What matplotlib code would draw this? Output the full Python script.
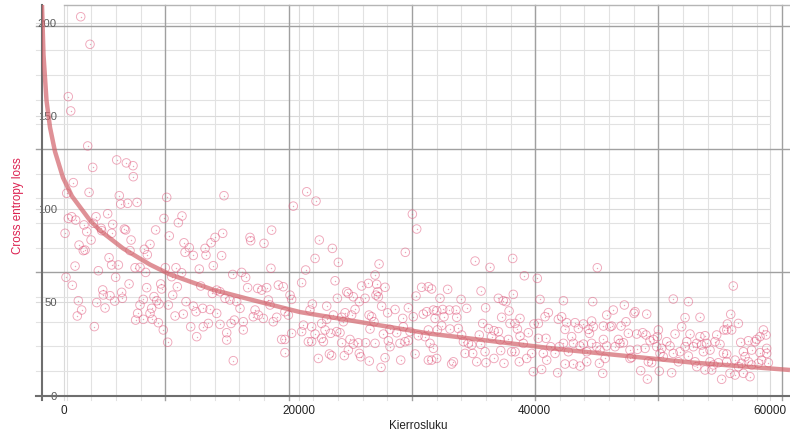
import matplotlib
matplotlib.use("Agg")
import matplotlib.pyplot as plt
import matplotlib.transforms as mtransforms

# ---------------- data (iteration, loss) ----------------
band_0_9k = [
    (1420, 203.4), (2210, 188.6), (365, 160.5), (570, 152.8), (2015, 134.0), (4480, 126.5),
    (2440, 122.5), (5300, 124.9), (5865, 123.4), (5890, 117.5),
    (790, 114.3), (230, 108.6), (2130, 109.1), (4700, 107.3), (4820, 102.8), (5410, 103.2),
    (6210, 103.7), (8730, 106.4), (370, 95.1), (650, 96.0), (990, 94.2), (2720, 96.0),
    (3710, 97.6), (90, 87.1), (1700, 91.6), (2490, 92.5), (1930, 88.0), (3150, 89.8),
    (3200, 88.5), (4140, 91.9), (4050, 87.1), (5130, 89.4), (5240, 88.9), (7790, 88.9),
    (8500, 95.1), (8950, 85.7), (2300, 83.5), (1280, 80.8), (1640, 77.8), (1790, 78.1),
    (5700, 83.5), (5610, 77.8), (6830, 78.5), (7080, 75.6), (7310, 81.2), (3830, 74.0),
    (4050, 70.1), (4620, 70.1), (940, 69.5), (2920, 67.0), (6040, 68.6), (6460, 68.8),
    (6940, 66.1), (8610, 68.6), (170, 63.5), (4390, 63.5), (710, 59.2), (3290, 56.7),
    (3340, 54.0), (3910, 53.6), (4900, 55.4), (5530, 59.9), (7030, 57.9), (8220, 59.9),
    (8300, 57.2), (1220, 50.9), (2780, 49.9), (3490, 47.0), (4310, 50.7), (4960, 52.2),
    (1500, 45.9), (1130, 42.7), (6740, 51.6), (6460, 48.6), (7650, 53.1), (7880, 50.9),
    (8080, 49.1), (7450, 46.8), (7310, 44.1), (6260, 44.1), (6740, 40.9), (6090, 40.5),
    (7510, 40.9), (8020, 39.1), (8440, 35.2), (2580, 37.0), (8810, 28.6), (8870, 48.6),
]
band_9k_20k = [
    (13600, 107.3), (19490, 101.7), (10030, 96.4), (9720, 92.8), (17650, 88.8), (13490, 87.1),
    (12840, 84.9), (15810, 84.9), (15870, 83.1), (17000, 81.7), (12500, 82.0), (10200, 82.0),
    (10650, 79.4), (11990, 79.0), (10290, 76.9), (10990, 75.2), (12070, 75.4), (13400, 75.1),
    (9520, 68.6), (10000, 65.9), (11500, 67.9), (12690, 69.7), (17590, 68.3), (14340, 65.0),
    (15100, 66.1), (15440, 63.4), (9150, 63.8), (9630, 58.4), (11620, 58.8), (12610, 54.8),
    (12980, 56.6), (13260, 55.7), (15610, 57.9), (16460, 57.5), (16800, 56.6), (17230, 57.9),
    (18220, 59.3), (18640, 58.4), (9240, 53.9), (19210, 53.9), (19350, 51.6), (10370, 50.4),
    (10990, 48.0), (11790, 46.8), (12410, 46.2), (13690, 52.2), (14110, 51.3), (14680, 50.4),
    (14960, 46.8), (16240, 45.9), (17370, 51.3), (17510, 48.6), (11220, 45.0), (12980, 44.1),
    (9440, 42.7), (10140, 43.7), (19070, 43.2), (10770, 36.9), (11840, 36.9), (12270, 38.7),
    (13260, 38.2), (14200, 38.7), (14480, 40.5), (15240, 39.6), (16090, 42.3), (16520, 43.2),
    (16940, 41.4), (17790, 39.6), (18080, 42.0), (18780, 45.0), (15240, 35.2), (13830, 33.7),
    (11280, 31.6), (13830, 29.8), (18500, 30.1), (18780, 30.1), (19350, 33.4), (18780, 23.0),
    (14390, 18.7),
]
band_20k_31k = [
    (20630, 109.4), (21420, 104.4), (29610, 97.4), (29980, 89.4), (21700, 83.5), (22810, 79.0),
    (21340, 73.6), (23320, 71.5), (20540, 67.4), (26780, 70.6), (29010, 76.9), (20200, 60.6),
    (23040, 61.6), (26440, 64.7), (25870, 60.2), (25300, 58.8), (26580, 59.7), (27290, 58.1),
    (26660, 55.7), (24030, 55.7), (24170, 54.8), (24590, 53.0), (23240, 52.2), (25590, 52.2),
    (25100, 50.4), (26520, 53.9), (26720, 53.0), (30400, 58.1), (29920, 53.4), (30970, 58.4),
    (21110, 49.1), (22330, 48.0), (20910, 45.9), (27000, 48.0), (28140, 46.2), (27510, 44.4),
    (29270, 47.1), (24740, 46.2), (23890, 44.4), (22900, 43.2), (24450, 43.2), (25930, 43.2),
    (26150, 42.3), (26350, 39.6), (30540, 43.7), (29690, 42.3), (30830, 45.0), (23600, 42.0),
    (23750, 39.6), (22330, 40.9), (21900, 38.7), (21050, 36.9), (20350, 37.8), (20200, 34.3),
    (21340, 33.0), (22190, 35.2), (22670, 33.4), (23180, 34.3), (23460, 33.7), (26010, 35.7),
    (27150, 33.0), (27710, 35.5), (28280, 33.7), (28790, 41.4), (28840, 36.9), (29410, 34.3),
    (30120, 32.1), (30690, 31.6), (30970, 35.2), (20770, 28.9), (21050, 28.9), (21900, 30.7),
    (22050, 28.9), (23600, 28.3), (24310, 30.1), (24590, 27.6), (25020, 28.3), (25640, 28.3),
    (26440, 28.0), (27570, 29.4), (27710, 26.2), (28560, 28.0), (28990, 28.9), (29270, 29.4),
    (29840, 22.3), (30970, 19.0), (21620, 19.9), (22560, 22.3), (22750, 21.4), (23830, 21.4),
    (24170, 24.4), (25100, 22.6), (25220, 20.8), (25950, 18.5), (26950, 15.1), (27290, 20.3),
    (28620, 19.0),
]
band_31k_42k = [
    (34940, 72.2), (36210, 68.8), (38140, 73.6), (39130, 64.3), (40230, 62.9), (31250, 57.2),
    (32610, 57.0), (35450, 56.1), (31960, 52.2), (33750, 51.6), (34230, 46.8), (35840, 47.1),
    (36920, 52.2), (37340, 50.9), (37570, 50.4), (37830, 45.4), (38190, 54.3), (40460, 51.6),
    (31400, 45.9), (31680, 45.5), (32190, 46.2), (32760, 45.9), (33320, 45.9), (33380, 42.0),
    (32300, 42.3), (31540, 41.4), (32100, 37.5), (32810, 35.7), (33520, 36.0), (31740, 35.2),
    (35590, 38.7), (36070, 36.0), (36550, 34.8), (36920, 34.3), (37200, 42.0), (37910, 38.7),
    (38340, 38.7), (38760, 41.4), (38540, 35.7), (39470, 33.7), (39950, 38.4), (40320, 38.7),
    (40890, 42.3), (41170, 44.5), (42020, 40.9), (31110, 28.0), (31400, 25.3), (31680, 19.9),
    (31250, 19.0), (33100, 18.1), (32950, 16.9), (33800, 32.5), (33950, 28.9), (34090, 22.6),
    (34740, 22.6), (34650, 27.1), (34370, 28.0), (35300, 32.5), (35420, 27.5), (35080, 18.1),
    (35790, 23.5), (35870, 17.6), (36550, 19.9), (36350, 31.6), (37060, 29.8), (37120, 24.1),
    (37770, 30.1), (38050, 23.5), (38340, 23.5), (37400, 17.3), (38760, 31.9), (38700, 18.1),
    (39040, 28.0), (39330, 19.9), (39750, 22.6), (40320, 30.7), (40970, 30.7), (40740, 22.6),
    (41030, 19.0), (41370, 26.2), (41740, 22.6), (42100, 26.2), (39890, 12.8), (40600, 14.0),
    (41960, 12.2),
]
band_42k_53k = [
    (45330, 68.6), (42450, 50.9), (44940, 50.4), (51790, 51.8), (53070, 50.4), (46690, 45.9),
    (47630, 48.6), (46130, 43.2), (48450, 44.1), (48540, 45.0), (49530, 43.7), (52790, 41.8),
    (42300, 42.3), (42730, 39.1), (43440, 39.1), (44150, 38.4), (44850, 40.0), (45850, 37.3),
    (46410, 36.9), (46550, 37.3), (47350, 37.3), (47770, 39.6), (50520, 35.2), (52500, 36.9),
    (42590, 35.5), (43150, 31.6), (43720, 36.0), (44570, 35.5), (44660, 33.4), (44990, 36.9),
    (45850, 30.1), (47120, 30.1), (47260, 28.0), (47970, 33.4), (48680, 33.0), (49190, 33.7),
    (49470, 32.5), (49810, 29.4), (50100, 30.1), (50440, 31.6), (51230, 28.9), (51940, 33.0),
    (52930, 28.9), (42450, 28.0), (43300, 28.0), (44150, 27.6), (43860, 26.6), (44850, 28.0),
    (45280, 26.2), (45560, 24.4), (46130, 26.6), (46840, 26.2), (47550, 28.3), (48110, 24.4),
    (48740, 24.8), (49390, 25.3), (50380, 26.2), (50800, 25.3), (50660, 22.6), (51510, 26.6),
    (51790, 22.6), (52360, 23.5), (52790, 26.2), (53070, 21.2), (42870, 23.5), (44430, 23.5),
    (45990, 19.9), (48110, 19.9), (48250, 20.5), (49670, 18.1), (49950, 17.6), (50940, 20.8),
    (52220, 18.1), (42590, 16.9), (43300, 16.9), (43860, 15.8), (44430, 18.1), (45510, 17.3),
    (49020, 13.3), (49590, 8.8), (50600, 13.1), (51650, 12.2), (45790, 11.9),
]
band_53k_60k = [
    (56890, 58.8), (54060, 42.0), (56670, 43.6), (56390, 38.4), (57320, 38.7), (56330, 35.2),
    (56100, 35.2), (56750, 35.2), (53210, 33.0), (54490, 32.1), (54060, 31.6), (55480, 32.5),
    (55340, 28.9), (55760, 27.5), (54630, 28.0), (53780, 28.0), (54200, 27.1), (53500, 26.2),
    (54350, 23.5), (54910, 24.4), (56050, 22.6), (56330, 22.3), (57520, 28.5), (58170, 29.4),
    (58740, 28.9), (58880, 30.1), (59450, 35.2), (59670, 32.5), (59160, 31.6), (59730, 25.3),
    (59730, 22.6), (58450, 24.4), (57750, 23.5), (57890, 20.8), (59160, 23.0), (59300, 19.0),
    (53640, 18.1), (53780, 15.5), (54490, 13.7), (54910, 18.1), (55200, 16.4), (55050, 13.7),
    (55620, 17.6), (56330, 18.1), (57040, 19.0), (57600, 17.3), (58170, 18.1), (58450, 16.4),
    (59020, 17.3), (59870, 17.6), (55900, 8.7), (56610, 11.9), (57040, 11.0), (57750, 11.9),
    (58310, 10.1), (57320, 15.5),
]

# trend line
trend_iterations = [-1870, -1743, -1488, -1190, -765, -85, 680, 2210, 3060, 5015, 7310,
                    9010, 12665, 15810, 20060, 31110, 42160, 53210, 61710]
trend_loss = [209.7, 183.0, 158.5, 144.0, 131.0, 117.0, 107.0, 94.0, 88.6, 79.0, 70.3,
              65.0, 56.8, 51.6, 44.8, 33.2, 24.8, 17.8, 13.7]

x_ticks = [0, 20000, 40000, 60000]
x_tick_labels = ["0", "20000", "40000", "60000"]
y_ticks = [0, 50, 100, 150, 200]
y_tick_labels = ["0", "50", "100", "150", "200"]
x_title = "Kierrosluku"
y_title = "Cross entropy loss"

# ---------------- figure ----------------
plt.rcParams['font.family'] = ['Liberation Sans', 'DejaVu Sans']
W, H = 790, 432
fig = plt.figure(figsize=(W / 100, H / 100), dpi=100)
ax = fig.add_axes([42 / W, 1 - 395.5 / H, 748 / W, 390.5 / H])

x_min, x_max = -1870, 61710
y_min, y_max = 0, 209.7
ax.set_xlim(x_min, x_max)
ax.set_ylim(y_min, y_max)
for s in ax.spines.values():
    s.set_visible(False)

tx = mtransforms.blended_transform_factory(ax.transData, ax.transAxes)
ty = mtransforms.blended_transform_factory(ax.transAxes, ax.transData)

grid_x0 = x_min
grid_x_step = 10480
grid_y_step = 66.2
major_c, minor_c, tickline_c, axis_c = '#a0a0a0', '#e2e2e2', '#dadada', '#6e6e6e'
below = -0.0128

# vertical grid
for k in range(0, 31):
    xv = grid_x0 + k * grid_x_step / 5
    if k == 0:
        ax.plot([xv, xv], [below, 1], transform=tx, color=axis_c, lw=1.5, clip_on=False, zorder=2.2)
    elif k % 5 == 0:
        ax.plot([xv, xv], [below, 1], transform=tx, color=major_c, lw=1.0, clip_on=False, zorder=1.2)
    else:
        ax.plot([xv, xv], [below, 1], transform=tx, color=minor_c, lw=0.8, clip_on=False, zorder=1)
for xv in x_ticks:
    ax.plot([xv, xv], [below, 1], transform=tx, color=tickline_c, lw=0.8, clip_on=False, zorder=1)

# horizontal grid
for k in range(0, 16):
    yv = k * grid_y_step / 5
    if k == 0:
        ax.plot([-0.008, 1], [yv, yv], transform=ty, color=axis_c, lw=1.5, clip_on=False, zorder=2.2)
    elif k % 5 == 0:
        ax.plot([-0.008, 1], [yv, yv], transform=ty, color=major_c, lw=1.0, clip_on=False, zorder=1.2)
    else:
        ax.plot([-0.008, 0.973], [yv, yv], transform=ty, color=minor_c, lw=0.8, clip_on=False, zorder=1)
for yv in y_ticks[1:]:
    ax.plot([-0.008, 0.973], [yv, yv], transform=ty, color=tickline_c, lw=0.8, clip_on=False, zorder=1)
ax.plot([0, x_max], [y_max, y_max], color='#b5b5b5', lw=1.0, clip_on=False, zorder=1.2)

# scatter
bands = [band_0_9k, band_9k_20k, band_20k_31k, band_31k_42k, band_42k_53k, band_53k_60k]
iterations = [p[0] for b in bands for p in b]
loss = [p[1] for b in bands for p in b]
pt_color = '#e0557a'
ax.scatter(iterations, loss, s=38, facecolors='none', edgecolors=pt_color,
           linewidths=0.65, alpha=0.52, zorder=3)
ax.scatter(iterations, loss, s=1.0, color=pt_color, linewidths=0, alpha=0.55, zorder=3)

# trend line
ax.plot(trend_iterations, trend_loss, color='#d2636b', lw=3.2, alpha=0.7,
        solid_capstyle='butt', solid_joinstyle='round', zorder=4)

# ticks / labels
ax.set_xticks(x_ticks, x_tick_labels)
ax.set_yticks(y_ticks, y_tick_labels)
ax.tick_params(axis='x', length=0, pad=6.5, labelsize=8.5, labelcolor='#222222')
ax.tick_params(axis='y', length=0, pad=-10.8, labelsize=8.2, labelcolor='#5a5a5a')
for lab in ax.get_yticklabels():
    lab.set_zorder(5)

fig.text(418 / W, 1 - 426 / H, x_title, ha='center', va='center', fontsize=8.4, color='#222222')
fig.text(18 / W, 1 - 205.5 / H, y_title, rotation=90, ha='center', va='center',
         fontsize=8.4, color='#dc2050')

fig.savefig('out.png', dpi=100)
